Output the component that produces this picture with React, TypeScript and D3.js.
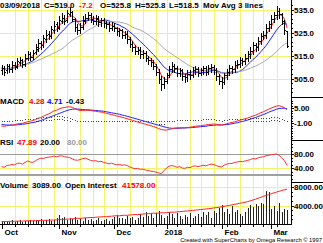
import React from 'react';
import * as d3 from 'd3';

const opens = [508.5,509.5,508.5,510.5,509.0,511.0,510.5,512.0,513.0,511.5,514.0,515.5,514.5,516.5,518.0,520.5,519.5,522.0,524.5,523.5,526.0,528.5,
527.5,530.0,531.5,530.5,533.0,534.0,531.0,527.5,526.0,527.5,530.0,531.5,532.5,531.0,530.0,531.5,529.5,530.5,529.0,528.5,527.0,
528.0,527.0,525.5,526.0,524.0,524.5,522.0,520.0,518.5,517.0,517.5,515.5,516.0,514.0,513.0,512.0,510.5,508.0,505.0,502.5,
504.0,506.5,509.0,510.5,509.5,507.5,508.5,506.0,505.5,507.0,506.5,508.5,509.0,507.5,508.5,509.5,508.0,509.5,510.0,508.5,506.0,
504.0,503.5,506.5,508.0,509.5,509.0,511.0,511.5,513.0,512.5,514.0,515.5,517.0,519.5,518.5,521.5,523.5,524.0,527.0,
528.5,531.0,532.5,534.5,533.0,530.0,525.8];
const highs = [511.0,510.5,511.5,511.5,512.5,512.0,514.0,514.5,513.5,515.5,517.0,516.5,517.5,520.0,522.0,521.5,524.0,526.0,525.5,528.0,530.0,529.5,
532.0,533.5,532.5,535.0,536.0,534.5,531.5,528.5,529.0,532.0,533.0,534.0,533.5,532.0,532.5,532.0,531.5,531.5,530.0,529.5,529.5,
529.0,527.5,527.0,526.5,525.5,525.5,523.0,521.5,519.5,518.5,518.5,517.5,517.0,515.0,514.0,513.0,511.5,509.0,506.0,505.5,
507.5,510.5,512.0,511.5,510.5,509.5,509.0,507.0,508.5,508.5,510.0,510.5,510.0,509.5,510.5,510.5,511.0,511.5,511.0,509.5,507.0,
505.5,507.5,509.0,511.0,510.5,512.5,513.0,514.5,514.0,515.5,517.0,518.5,521.0,520.5,523.0,525.0,525.5,528.5,530.0,
532.5,534.0,536.5,535.5,533.5,530.5,525.8];
const lows = [507.0,506.5,507.5,508.0,508.0,509.0,509.5,511.0,510.0,510.5,513.0,513.0,513.5,515.5,517.0,518.0,518.5,521.0,522.0,522.5,525.0,525.5,
526.5,529.0,528.5,529.5,532.0,530.0,525.5,524.5,525.0,526.5,529.0,530.5,529.5,528.5,528.5,528.0,528.0,527.5,527.0,525.5,526.0,
525.5,524.0,523.5,522.5,522.5,520.5,518.5,517.0,515.5,515.5,514.0,514.0,512.5,511.5,510.5,509.0,506.5,503.0,500.0,501.0,
503.0,505.5,508.0,508.0,506.0,506.0,504.5,503.5,504.0,505.0,505.5,507.0,506.0,506.5,507.0,506.5,507.0,508.0,507.0,504.5,502.5,
501.0,502.5,505.0,506.5,507.5,508.0,509.5,510.0,511.0,511.5,512.5,514.0,515.5,517.0,517.5,520.0,522.0,522.5,525.5,
527.0,529.5,531.0,531.5,528.5,524.5,518.5];
const closes = [509.5,508.0,510.5,509.0,511.0,510.0,512.5,513.0,511.5,514.0,515.5,514.5,516.0,518.5,520.5,519.5,522.5,524.0,523.5,526.5,528.0,527.0,
530.5,531.5,530.0,533.5,534.0,531.0,527.5,526.0,527.5,530.5,531.5,532.5,531.0,530.0,531.0,529.5,530.5,529.0,528.5,527.0,528.0,
527.0,525.5,526.0,524.0,524.5,522.0,520.0,518.5,517.0,517.5,515.5,516.0,514.0,513.0,512.0,510.5,508.0,505.0,502.5,504.0,
506.5,509.0,510.5,509.5,507.5,508.5,506.0,505.5,507.0,506.5,508.5,509.0,507.5,508.5,509.5,508.0,509.5,510.0,508.5,506.0,504.0,
503.5,506.5,508.0,509.5,509.0,511.0,511.5,513.0,512.5,514.0,515.5,517.0,519.5,518.5,521.5,523.5,524.0,527.0,528.5,
531.0,532.5,534.5,533.0,530.0,526.2,519.0];

const macdLine = [-2.2,-2.3,-2.1,-2.0,-1.8,-1.7,-1.4,-1.2,-1.1,-0.8,-0.5,-0.3,0.0,0.4,0.9,1.2,1.7,2.2,2.6,3.2,3.8,4.1,
4.6,5.0,5.2,5.4,5.5,5.3,4.8,4.3,4.0,4.0,4.1,4.1,4.0,3.8,3.7,3.5,3.4,3.2,2.9,2.6,2.4,
2.1,1.8,1.6,1.3,1.0,0.7,0.4,0.1,-0.3,-0.6,-0.9,-1.2,-1.5,-1.8,-2.1,-2.4,-2.8,-3.2,-3.6,-3.8,
-3.8,-3.6,-3.3,-3.1,-3.0,-2.9,-2.9,-2.9,-2.8,-2.7,-2.5,-2.3,-2.2,-2.1,-1.9,-1.8,-1.6,-1.5,-1.4,-1.5,-1.7,
-1.8,-1.6,-1.3,-1.0,-0.8,-0.5,-0.2,0.1,0.4,0.7,1.0,1.4,1.8,2.1,2.6,3.1,3.5,4.0,4.5,
5.0,5.4,5.8,5.9,5.6,5.1,4.28];
const macdSignal = [-1.6,-1.7,-1.8,-1.8,-1.8,-1.8,-1.7,-1.6,-1.5,-1.4,-1.2,-1.0,-0.8,-0.6,-0.3,0.0,0.4,0.8,1.2,1.6,2.0,2.4,
2.8,3.2,3.6,4.0,4.3,4.5,4.6,4.6,4.5,4.4,4.3,4.3,4.2,4.1,4.0,3.9,3.8,3.7,3.5,3.3,3.1,
2.9,2.7,2.5,2.2,2.0,1.7,1.4,1.1,0.8,0.5,0.2,-0.1,-0.4,-0.7,-1.0,-1.3,-1.6,-1.9,-2.2,-2.5,
-2.8,-3.0,-3.1,-3.1,-3.1,-3.1,-3.0,-3.0,-2.9,-2.9,-2.8,-2.7,-2.6,-2.5,-2.4,-2.3,-2.1,-2.0,-1.9,-1.8,-1.8,
-1.8,-1.7,-1.6,-1.5,-1.3,-1.1,-0.9,-0.6,-0.4,-0.1,0.2,0.5,0.9,1.2,1.6,2.0,2.4,2.8,3.3,
3.7,4.1,4.5,4.8,4.9,4.9,4.71];
const rsiValues = [44,42,47,48,50,49,53,54,51,56,60,57,56,61,65,68,67,70,71,72,74,72,
74,75,72,71,70,66,63,62,64,67,68,65,62,60,61,58,59,56,54,52,54,
51,49,50,48,49,47,43,40,38,39,36,37,34,33,31,30,28,26,24,32,
40,45,47,45,42,44,40,39,42,41,45,46,44,46,48,46,49,51,50,47,44,
43,48,51,53,53,56,57,59,58,60,62,64,67,66,69,71,72,75,76,
78,79,80,76,69,61,47.89];
const volumes = [600,400,700,500,800,450,600,900,500,700,650,800,550,900,700,1000,600,800,1100,700,900,1300,
1900,1200,1500,900,1300,1000,1600,800,1100,700,1200,900,1000,600,800,1300,700,900,1100,600,1000,
1500,2000,1200,1400,1000,1800,1300,1600,900,1200,2200,1500,2600,1800,2100,1400,2400,2800,2000,1200,
1800,2600,2200,1400,2400,1800,1000,2000,1500,2400,1200,1800,2200,1600,2500,1900,2700,1300,2900,2300,3500,
4200,2500,3200,2100,3800,2600,3000,2200,1800,2700,3400,4100,3600,4400,3900,4600,4300,7200,7000,
3300,4000,2800,4600,2600,3200,3089];
const openInterest = [14300,14400,14350,14500,14600,14550,14700,14800,14750,14900,15000,15100,15050,15200,15300,15250,15400,15500,15450,15600,15700,15800,
16000,16200,16150,16400,16500,16700,16900,17100,17000,17300,17500,17600,17800,17700,18000,18200,18300,18500,18400,18700,18900,
19100,19300,19200,19500,19700,19600,19900,20100,20300,20200,20500,20700,20900,21000,21200,21400,21300,21600,21800,21700,
21900,22100,22300,22200,22500,22700,22900,23100,23300,23500,23800,24000,24200,24500,24700,24900,25200,25500,25800,26100,26400,
26800,27200,27600,28000,28400,28900,29300,29800,30200,30600,31200,31800,32500,33200,34000,34800,35600,36300,37000,
37800,38500,39200,39900,40500,41100,41578];

const priceTicks = [505, 515, 525, 535];
const macdTicks = [-1, 5];
const rsiTicks = [40, 80];
const volTicks = [4000, 8000];
const maPeriods = [4, 10, 24];
const maColors = ['#ff2020', '#2020ff', '#a8a8a8'];
const monthLabels = ['Oct', 'Nov', 'Dec', '2018', 'Feb', 'Mar'];
const holidays = ['2017-11-23', '2017-12-25', '2018-01-01', '2018-01-15', '2018-02-19'];

const W = 323, H = 243;
const AX = 291;
const FONT = "'Liberation Sans', Arial, sans-serif";
const YEL = '#f4f46a';

function tradingDays(): Date[] {
  const out: Date[] = [];
  const d = new Date(Date.UTC(2017, 9, 2));
  const end = new Date(Date.UTC(2018, 2, 9));
  while (d <= end) {
    const dow = d.getUTCDay();
    const key = d.toISOString().slice(0, 10);
    if (dow !== 0 && dow !== 6 && !holidays.includes(key)) out.push(new Date(d));
    d.setUTCDate(d.getUTCDate() + 1);
  }
  return out;
}

function sma(vals: number[], p: number): number[] {
  return vals.map((_, i) => {
    const w = vals.slice(Math.max(0, i - p + 1), i + 1);
    return d3.mean(w) as number;
  });
}

export default function App() {
  const n = closes.length;
  const dates = tradingDays();
  const x = d3.scaleLinear().domain([0, n - 1]).range([1.5, 287]);
  const xc = (i: number) => Math.round(x(i)); // pixel column
  const xp = (i: number) => xc(i) + 0.5;
  const yP = d3.scaleLinear().domain([505, 535]).range([78.5, 9.5]);
  const yM = d3.scaleLinear().domain([-1, 5]).range([123, 108]);
  const yR = d3.scaleLinear().domain([40, 80]).range([168, 154]);
  const yV = d3.scaleLinear().domain([0, 8000]).range([224, 187]);
  const yOI = d3.scaleLinear().domain([14000, 46000]).range([222, 184]);

  const weekStarts: number[] = [];
  const monthStarts: number[] = [];
  dates.forEach((d, i) => {
    if (i === 0) { monthStarts.push(i); return; }
    const p = dates[i - 1];
    if (d.getUTCDay() < p.getUTCDay() || (d.getTime() - p.getTime()) > 3.5 * 86400000) weekStarts.push(i);
    if (d.getUTCMonth() !== p.getUTCMonth()) monthStarts.push(i);
  });

  const lineGen = (ys: (v: number) => number) =>
    d3.line<number>().x((_, i) => x(i)).y((v) => ys(v));

  const mas = maPeriods.map((p) => sma(closes, p));

  const txt = (s: string, xx: number, yy: number, color = '#000', extra: any = {}) => (
    <text x={xx} y={yy} fill={color} fontFamily={FONT} fontWeight="bold" fontSize={8} {...extra}>{s}</text>
  );

  const minorTicks = (scale: d3.ScaleLinear<number, number>, lo: number, hi: number, step: number, top: number, bottom: number) => {
    const out: number[] = [];
    for (let v = lo; v <= hi + 1e-9; v += step) {
      const yy = scale(v);
      if (yy > top + 1 && yy < bottom - 1) out.push(yy);
    }
    return out;
  };
  const minors = [
    ...minorTicks(yP, 495, 541, 2, 0, 97),
    ...minorTicks(yM, -8, 10, 1, 97, 140),
    ...minorTicks(yR, 0, 120, 10, 140, 182),
    ...minorTicks(yV, 0, 9000, 1000, 182, 224),
  ];

  const ry = (v: number) => Math.round(v);

  return (
    <svg width={W} height={H} style={{ position: 'fixed', left: 0, top: 0, background: '#fff' }}
      shapeRendering="crispEdges">
      <defs>
        <clipPath id="cp"><rect x={0} y={0} width={AX} height={97} /></clipPath>
        <clipPath id="cm"><rect x={0} y={97} width={AX} height={43} /></clipPath>
        <clipPath id="cr"><rect x={0} y={140} width={AX} height={42} /></clipPath>
        <clipPath id="cv"><rect x={0} y={182} width={AX} height={42} /></clipPath>
      </defs>
      <rect x={0} y={0} width={W} height={H} fill="#fff" />
      {/* vertical weekly grid */}
      {weekStarts.map((i) => (
        <line key={'vg' + i} x1={xp(i)} x2={xp(i)} y1={0} y2={224} stroke={YEL} />
      ))}
      {/* horizontal grids */}
      {priceTicks.map((t) => (
        <line key={'pg' + t} x1={0} x2={AX} y1={ry(yP(t)) + 0.5} y2={ry(yP(t)) + 0.5} stroke={YEL} />
      ))}
      {[40].map((t) => (
        <line key={'rg' + t} x1={0} x2={AX} y1={ry(yR(t)) + 0.5} y2={ry(yR(t)) + 0.5} stroke={YEL} />
      ))}
      {volTicks.map((t) => (
        <line key={'vgr' + t} x1={0} x2={AX} y1={ry(yV(t)) + 0.5} y2={ry(yV(t)) + 0.5} stroke={YEL} />
      ))}
      <line x1={0} x2={AX} y1={ry(yR(80)) + 0.5} y2={ry(yR(80)) + 0.5} stroke="#9a9a9a" />
      <line x1={0} x2={AX} y1={ry(yR(20))} y2={ry(yR(20))} stroke="#a0a0a0" strokeWidth={2} />

      {/* Price panel */}
      <g clipPath="url(#cp)">
        {mas.map((m, k) => (
          <path key={'ma' + k} d={lineGen(yP)(m) || ''} fill="none" stroke={maColors[k]} strokeWidth={1} shapeRendering="auto" />
        ))}
        {closes.map((c, i) => {
          const xi = xc(i);
          const yo = ry(yP(opens[i]));
          const yc = ry(yP(c));
          const yh = ry(yP(highs[i]));
          const yl = ry(yP(lows[i]));
          return (
            <g key={'b' + i} fill="#000">
              <rect x={xi} y={yh} width={1} height={Math.max(1, yl - yh + 1)} />
              <rect x={xi - 1} y={yo} width={1} height={1} />
              <rect x={xi + 1} y={yc} width={1} height={1} />
            </g>
          );
        })}
      </g>

      {/* MACD panel */}
      <g clipPath="url(#cm)">
        {macdLine.map((m, i) => {
          const h = m - macdSignal[i];
          const y0 = ry(yM(0));
          const y1 = ry(yM(h));
          return (
            <line key={'h' + i} x1={xp(i)} x2={xp(i)} y1={Math.min(y0, y1)} y2={Math.max(y0, y1) + 1} stroke="#444" strokeDasharray="1,2" />
          );
        })}
        <path d={lineGen(yM)(macdSignal) || ''} fill="none" stroke="#2020ff" shapeRendering="auto" />
        <path d={lineGen(yM)(macdLine) || ''} fill="none" stroke="#ff2020" shapeRendering="auto" />
      </g>

      {/* RSI panel */}
      <g clipPath="url(#cr)">
        <path d={lineGen(yR)(rsiValues) || ''} fill="none" stroke="#ff3030" shapeRendering="auto" />
      </g>

      {/* Volume panel */}
      <g clipPath="url(#cv)">
        {volumes.map((v, i) => (
          <line key={'v' + i} x1={xp(i)} x2={xp(i)} y1={yV(0)} y2={yV(v)} stroke="#222" />
        ))}
        <path d={lineGen(yOI)(openInterest) || ''} fill="none" stroke="#ff2020" shapeRendering="auto" />
      </g>

      {/* axes */}
      <line x1={AX + 0.5} x2={AX + 0.5} y1={0} y2={225} stroke="#000" />
      <line x1={0} x2={AX + 1} y1={224.5} y2={224.5} stroke="#000" />
      {[97, 140, 182].map((yy) => (
        <line key={'sep' + yy} x1={AX} x2={W} y1={yy + 0.5} y2={yy + 0.5} stroke="#000" />
      ))}
      {minors.map((yy, k) => (
        <line key={'mt' + k} x1={AX} x2={AX + 2} y1={ry(yy) + 0.5} y2={ry(yy) + 0.5} stroke="#000" />
      ))}
      {weekStarts.map((i) => (
        <line key={'xt' + i} x1={xp(i)} x2={xp(i)} y1={224} y2={227} stroke="#000" />
      ))}
      {monthStarts.map((i) => (
        <line key={'mt2' + i} x1={xp(i)} x2={xp(i)} y1={224} y2={229} stroke="#000" />
      ))}

      {/* right axis labels */}
      {priceTicks.map((t) => (
        <g key={'pl' + t}>
          <line x1={AX} x2={AX + 3} y1={ry(yP(t)) + 0.5} y2={ry(yP(t)) + 0.5} stroke="#000" />
          {txt(t.toFixed(1), 294, yP(t) + 3)}
        </g>
      ))}
      {macdTicks.map((t) => (
        <g key={'ml' + t}>
          <line x1={AX} x2={AX + 3} y1={ry(yM(t)) + 0.5} y2={ry(yM(t)) + 0.5} stroke="#000" />
          {txt(t.toFixed(2), 294, yM(t) + 3)}
        </g>
      ))}
      {rsiTicks.map((t) => (
        <g key={'rl' + t}>
          <line x1={AX} x2={AX + 3} y1={ry(yR(t)) + 0.5} y2={ry(yR(t)) + 0.5} stroke="#000" />
          {txt(t.toFixed(2), 294, yR(t) + 3)}
        </g>
      ))}
      {volTicks.map((t) => (
        <g key={'vl' + t}>
          <line x1={AX} x2={AX + 3} y1={ry(yV(t)) + 0.5} y2={ry(yV(t)) + 0.5} stroke="#000" />
          {txt(t.toFixed(2), 294, yV(t) + 3)}
        </g>
      ))}

      {/* month labels */}
      {monthStarts.map((i, k) => txt(monthLabels[k], xp(i) + (k === 3 ? -3 : 2), 234.5, '#000', { key: 'mlab' + k }))}

      {/* titles */}
      {txt('03/09/2018', 0, 8)}
      {txt('C=519.0', 44, 8)}
      {txt('-7.2', 79, 8, '#ff0000')}
      {txt('O=525.8', 100, 8)}
      {txt('H=525.8', 135, 8)}
      {txt('L=518.5', 169, 8)}
      {txt('Mov Avg 3 lines', 203, 8)}

      {txt('MACD', 0, 104)}
      {txt('4.28', 29, 104, '#ff0000')}
      {txt('4.71', 47, 104, '#0000ff')}
      {txt('-0.43', 66, 104)}

      {txt('RSI', 0, 145)}
      {txt('47.89', 17, 145, '#ff0000')}
      {txt('20.00', 40, 145)}
      {txt('80.00', 67, 145, '#9a9a9a')}

      {txt('Volume', 0, 188)}
      {txt('3089.00', 32, 188)}
      {txt('Open Interest', 65, 188)}
      {txt('41578.00', 122, 188, '#ff0000')}

      <text x={322} y={242} textAnchor="end" fontFamily={FONT} fontSize={5.8} fill="#000">
        Created with SuperCharts by Omega Research © 1997
      </text>
    </svg>
  );
}
